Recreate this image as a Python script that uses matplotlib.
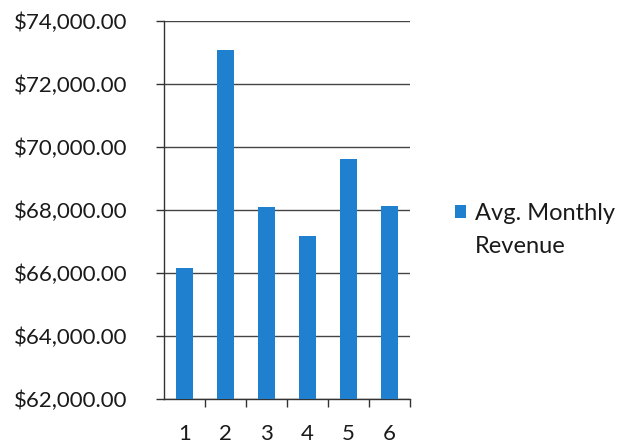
import matplotlib.pyplot as plt
from matplotlib.patches import Patch
from matplotlib.ticker import FuncFormatter

# Dados
months = [1, 2, 3, 4, 5, 6]
revenue = [66140, 73070, 68100, 67170, 69600, 68130]
legend_lines = ["Avg. Monthly", "Revenue"]

plt.rcParams['font.family'] = ['Lato', 'DejaVu Sans']
plt.rcParams['text.color'] = '#1a1a1a'

fig = plt.figure(figsize=(6.21, 4.45), dpi=100)
ax = fig.add_axes([0.264, 0.1034, 0.396, 0.8501])

bars = ax.bar(months, revenue, width=0.42, color='#1f80d0', zorder=3)

ax.set_ylim(62000, 74000)
ax.set_yticks(range(62000, 74001, 2000))
ax.yaxis.set_major_formatter(FuncFormatter(lambda v, p: f"${v:,.2f}"))
ax.set_xlim(0.5, 6.5)
ax.set_xticks(months)
ax.set_xticks([1.5 + i for i in range(6)], minor=True)
ax.tick_params(axis='x', which='major', length=0, pad=18, labelsize=16, labelcolor='#1a1a1a')
ax.tick_params(axis='x', which='minor', length=6, width=1, color='#333333', direction='out')
ax.tick_params(axis='y', length=6, width=1, color='#333333', direction='out', pad=20,
               labelsize=16, labelcolor='#1a1a1a')

ax.grid(axis='y', color='#444444', linewidth=1, zorder=0)
for side in ['top', 'right']:
    ax.spines[side].set_visible(False)
for side in ['left', 'bottom']:
    ax.spines[side].set_color('#333333')
    ax.spines[side].set_linewidth(1)

# legenda em duas linhas, quadrado só na primeira
fig.legend(handles=[bars, Patch(visible=False)], labels=legend_lines, loc='center left',
           bbox_to_anchor=(0.714, 0.484), frameon=False, fontsize=17, borderpad=0,
           handlelength=0.45, handleheight=0.45, handletextpad=0.4, labelspacing=0.5)

fig.savefig("out.png", dpi=100)
